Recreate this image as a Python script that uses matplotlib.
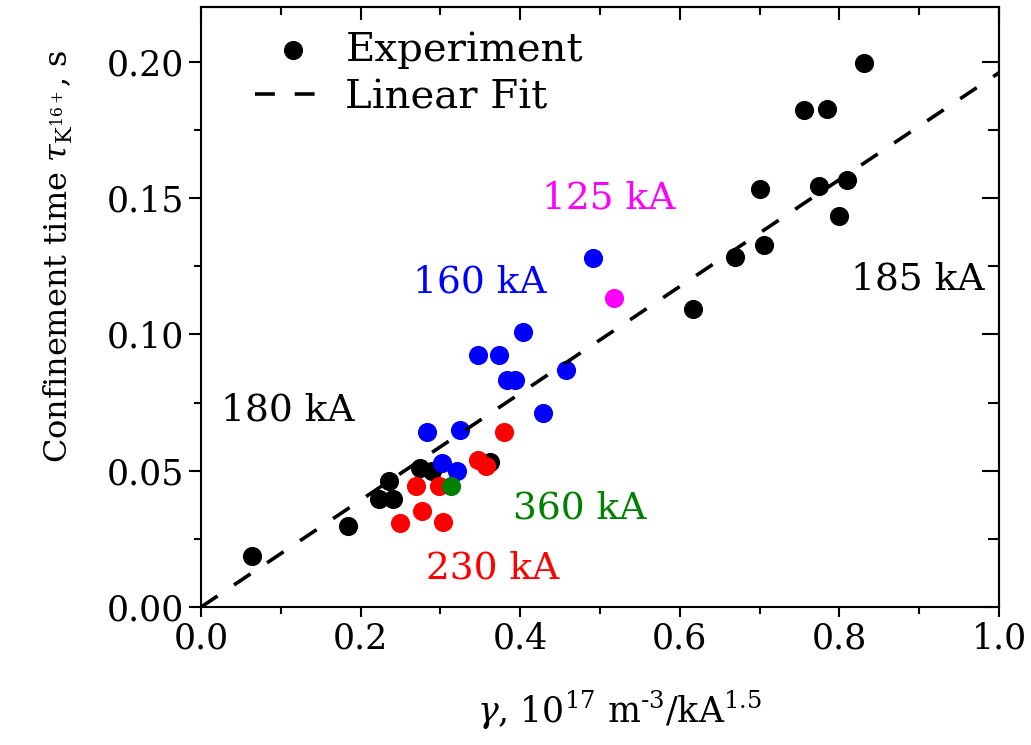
import matplotlib
matplotlib.use("Agg")
import matplotlib.pyplot as plt
import numpy as np

plt.rcParams['font.family'] = ['DejaVu Serif']
plt.rcParams['mathtext.fontset'] = 'dejavuserif'

# Data
black_x = [0.064, 0.184, 0.236, 0.2235, 0.240, 0.275, 0.290, 0.362, 0.617, 0.669,
           0.706, 0.700, 0.775, 0.809, 0.800, 0.755, 0.784, 0.831]
black_y = [0.0187, 0.0297, 0.0463, 0.0395, 0.0395, 0.0510, 0.0500, 0.0533, 0.1092, 0.1283,
           0.1328, 0.1533, 0.1546, 0.1567, 0.1436, 0.1824, 0.1826, 0.1995]
blue_x = [0.4917, 0.404, 0.3475, 0.374, 0.383, 0.3935, 0.457, 0.428, 0.283, 0.324, 0.3016, 0.321]
blue_y = [0.128, 0.1008, 0.0926, 0.0926, 0.0833, 0.0833, 0.087, 0.0711, 0.0643, 0.065, 0.0527, 0.0499]
red_x = [0.3797, 0.3475, 0.357, 0.2694, 0.2987, 0.2774, 0.2494, 0.3037]
red_y = [0.0643, 0.0539, 0.0519, 0.0444, 0.0444, 0.0353, 0.0309, 0.0313]
green_x = [0.3129]
green_y = [0.0444]
magenta_x = [0.5175]
magenta_y = [0.1135]
fit_slope = 0.196
fit_x = [0.0, 1.0]

labels = ["125 kA", "160 kA", "185 kA", "180 kA", "360 kA", "230 kA"]
label_x = [0.427, 0.266, 0.8145, 0.025, 0.391, 0.282]
label_y = [0.150, 0.119, 0.120, 0.072, 0.0363, 0.0143]
label_c = ["#ff00ff", "#0000ff", "black", "black", "#008000", "#ff0000"]

xticks = [0.0, 0.2, 0.4, 0.6, 0.8, 1.0]
xticklabels = ['0.0', '0.2', '0.4', '0.6', '0.8', '1.0']
yticks = [0.0, 0.05, 0.10, 0.15, 0.20]
yticklabels = ['0.00', '0.05', '0.10', '0.15', '0.20']

fig = plt.figure(figsize=(10.31, 7.45), dpi=100)
ax = fig.add_axes([0.195, 0.1852, 0.774, 0.805])

ms = 190
ax.scatter(black_x, black_y, s=ms, color='black', zorder=3, label='Experiment', linewidths=0)
ax.scatter(blue_x, blue_y, s=ms, color='#0000ff', zorder=3, linewidths=0)
ax.scatter(red_x, red_y, s=ms, color='#ff0000', zorder=3, linewidths=0)
ax.scatter(green_x, green_y, s=ms, color='#008000', zorder=3, linewidths=0)
ax.scatter(magenta_x, magenta_y, s=ms, color='#ff00ff', zorder=3, linewidths=0)
fx = np.array(fit_x)
ax.plot(fx, fit_slope * fx, color='black', lw=2.6, dashes=(5.5, 5.5), label='Linear Fit', zorder=4)

for t, x, y, c in zip(labels, label_x, label_y, label_c):
    ax.text(x, y, t, color=c, fontsize=27, ha='left', va='center')

ax.set_xlim(0, 1.0)
ax.set_ylim(0, 0.22)
ax.set_xticks(xticks)
ax.set_xticklabels(xticklabels)
ax.set_yticks(yticks)
ax.set_yticklabels(yticklabels)
xminor = np.arange(0.1, 1.0, 0.2)
yminor = np.arange(0.025, 0.22, 0.05)
ax.set_xticks(xminor, minor=True)
ax.set_yticks(yminor, minor=True)
ax.tick_params(axis='both', which='both', labelsize=25, width=1.5, direction='out')
ax.tick_params(axis='x', which='major', length=7)
ax.tick_params(axis='x', which='minor', length=5)
ax.tick_params(axis='y', which='major', length=9)
ax.tick_params(axis='y', which='minor', length=5)
for sp in ax.spines.values():
    sp.set_linewidth(1.5)

# top and right inward ticks
secx = ax.secondary_xaxis('top')
secx.set_xticks(xticks)
secx.set_xticks(xminor, minor=True)
secx.tick_params(which='both', direction='in', labeltop=False, width=1.5)
secx.tick_params(which='major', length=9)
secx.tick_params(which='minor', length=6)
secx.spines['top'].set_linewidth(1.5)
secy = ax.secondary_yaxis('right')
secy.set_yticks(yticks)
secy.set_yticks(yminor, minor=True)
secy.tick_params(which='both', direction='in', labelright=False, width=1.5)
secy.tick_params(which='major', length=12)
secy.tick_params(which='minor', length=8)
secy.spines['right'].set_linewidth(1.5)

ax.set_xlabel(r'$\gamma$, 10$^{17}$ m$^{\text{-3}}$/kA$^{1.5}$', fontsize=25)
ax.xaxis.set_label_coords(0.525, -0.137)
ax.set_ylabel(r'Confinement time $\tau_{\mathrm{K}^{16+}}$, s', fontsize=23)
ax.yaxis.set_label_coords(-0.158, 0.585)

leg = ax.legend(loc='upper left', frameon=False, fontsize=29, handlelength=1.9,
                bbox_to_anchor=(0.022, 1.02), handletextpad=0.35, labelspacing=0.25)

fig.savefig('out.png', dpi=100)
